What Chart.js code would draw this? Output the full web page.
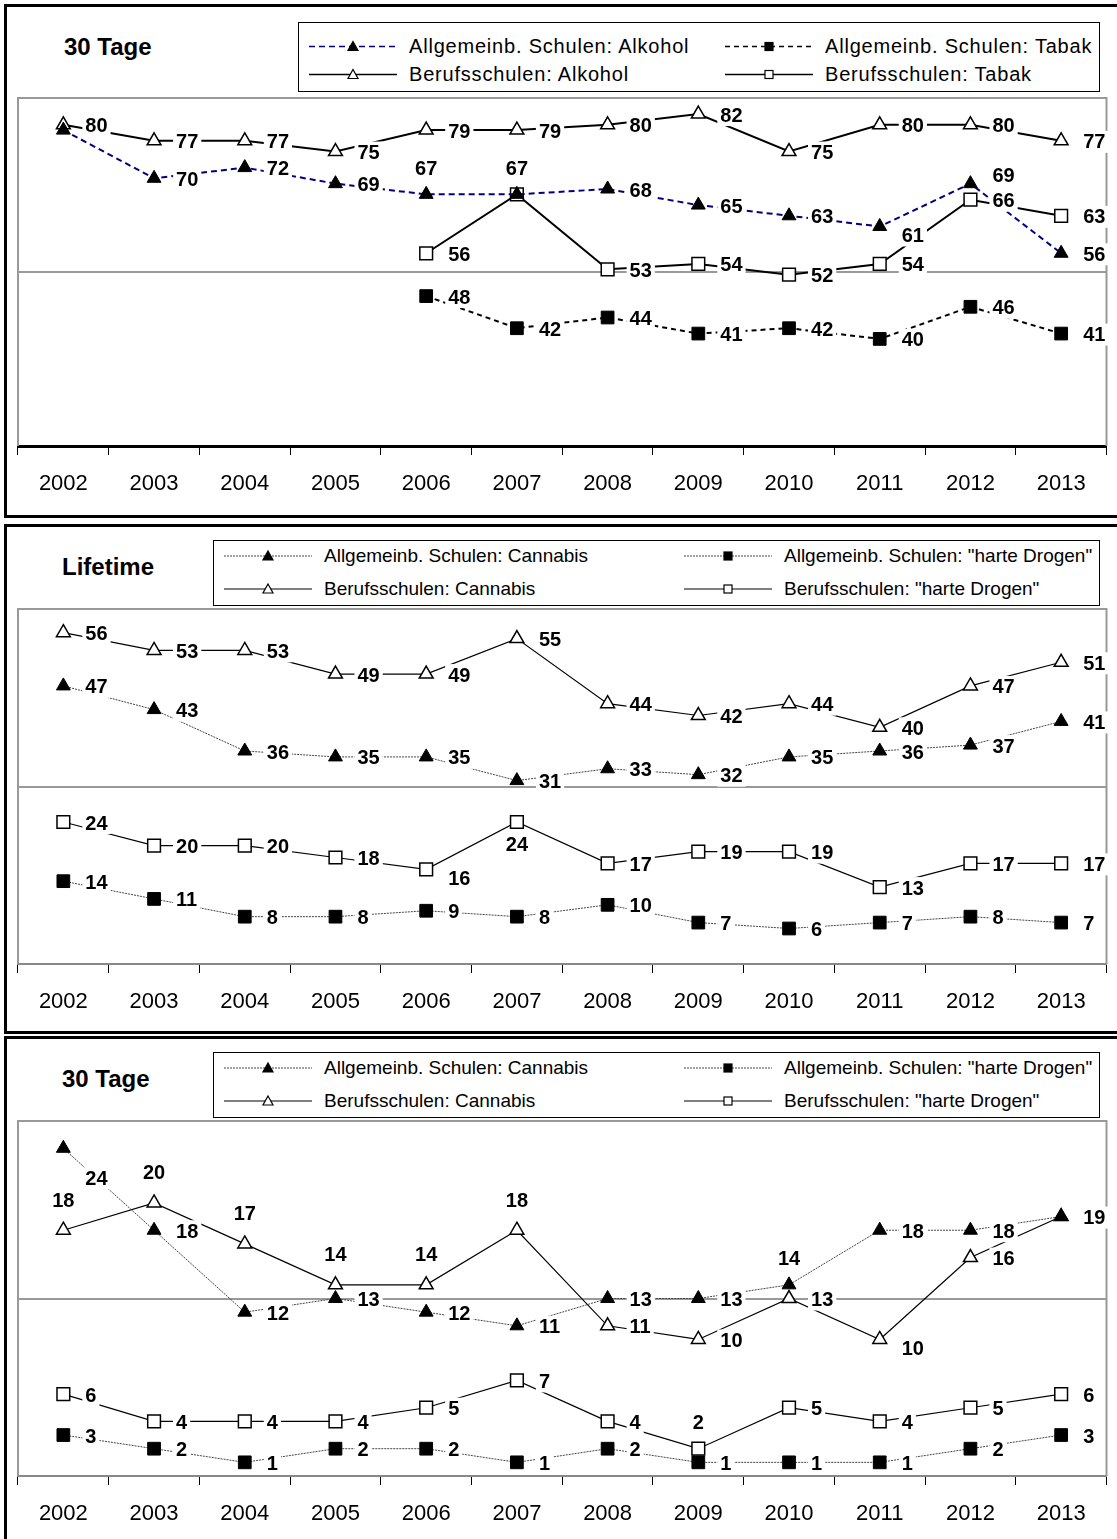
<!DOCTYPE html>
<html>
<head>
<meta charset="utf-8">
<script src="https://cdn.jsdelivr.net/npm/chart.js@4.4.1/dist/chart.umd.min.js"></script>
<style>
  html, body { margin: 0; padding: 0; background: #fff; overflow: hidden; width: 1117px; height: 1539px; }
  body { position: relative; font-family: "Liberation Sans", Arial, sans-serif; color: #000; }
  .panel { position: absolute; left: 4px; width: 1130px; border: 3px solid #000; box-sizing: border-box; }
  .title { position: absolute; font-weight: bold; font-size: 24px; line-height: 1; transform: translateY(-50%); white-space: nowrap; }
  .legend { position: absolute; border: 1.5px solid #000; box-sizing: border-box; background: #fff; }
  .litem { position: absolute; display: flex; align-items: center; white-space: nowrap; transform: translateY(-50%); }
  .litem svg { display: block; margin-right: 12px; }
  canvas { position: absolute; left: 0; }
</style>
</head>
<body>
<div id="root"></div>
<script>
// ---- categories ----
const years = ['2002', '2003', '2004', '2005', '2006', '2007', '2008', '2009', '2010', '2011', '2012', '2013'];

// ---- 30-Tage: Alkohol / Tabak ----
const alkAllg  = [79, 70, 72, 69, 67, 67, 68, 65, 63, 61, 69, 56];
const tabAllg  = [null, null, null, null, 48, 42, 44, 41, 42, 40, 46, 41];
const alkBeruf = [80, 77, 77, 75, 79, 79, 80, 82, 75, 80, 80, 77];
const tabBeruf = [null, null, null, null, 56, 67, 53, 54, 52, 54, 66, 63];

// ---- Lifetime: Cannabis / "harte Drogen" ----
const lifeCanAllg   = [47, 43, 36, 35, 35, 31, 33, 32, 35, 36, 37, 41];
const lifeHartAllg  = [14, 11, 8, 8, 9, 8, 10, 7, 6, 7, 8, 7];
const lifeCanBeruf  = [56, 53, 53, 49, 49, 55, 44, 42, 44, 40, 47, 51];
const lifeHartBeruf = [24, 20, 20, 18, 16, 24, 17, 19, 19, 13, 17, 17];

// ---- 30-Tage: Cannabis / "harte Drogen" ----
const monCanAllg   = [24, 18, 12, 13, 12, 11, 13, 13, 14, 18, 18, 19];
const monHartAllg  = [3, 2, 1, 2, 2, 1, 2, 1, 1, 1, 2, 3];
const monCanBeruf  = [18, 20, 17, 14, 14, 18, 11, 10, 13, 10, 16, 19];
const monHartBeruf = [6, 4, 4, 4, 5, 7, 4, 2, 5, 4, 5, 6];

// ---- legend texts ----
const legendAlkTab = ['Allgemeinb. Schulen: Alkohol', 'Allgemeinb. Schulen: Tabak', 'Berufsschulen: Alkohol', 'Berufsschulen: Tabak'];
const legendDrogen = ['Allgemeinb. Schulen: Cannabis', 'Allgemeinb. Schulen: "harte Drogen"', 'Berufsschulen: Cannabis', 'Berufsschulen: "harte Drogen"'];

// where each value label sits relative to its marker: r = right, a = above, ra/rb = right, raised/lowered, b = below, n = none
const labelPos = {
  alkAllg:  ['n', 'r', 'r', 'r', 'a', 'a', 'r', 'r', 'r', 'rb', 'ra', 'r'],
  tabBeruf: ['n', 'n', 'n', 'n', 'r', 'n', 'r', 'r', 'r', 'r', 'r', 'r'],
  lifeHartBeruf: ['r', 'r', 'r', 'r', 'rb', 'b', 'r', 'r', 'r', 'r', 'r', 'r'],
  monCanAllg:  ['rb2', 'r', 'r', 'r', 'r', 'r', 'r', 'r', 'a', 'r', 'r', 'r'],
  monCanBeruf: ['a2', 'a2', 'a2', 'a2', 'a2', 'a2', 'r', 'r', 'r', 'rb', 'r', 'n'],
  monHartBeruf: ['r', 'r', 'r', 'r', 'r', 'r', 'r', 'a', 'r', 'r', 'r', 'r']
};

// ---- series styles ----
const mk = {
  triFill: { pointStyle: 'triangle', pointRadius: 8, pointBackgroundColor: '#000', pointBorderColor: '#000', pointBorderWidth: 1 },
  triOpen: { pointStyle: 'triangle', pointRadius: 8, pointBackgroundColor: '#fff', pointBorderColor: '#000', pointBorderWidth: 1.5 },
  sqFill:  { pointStyle: 'rect', pointRadius: 9, pointBackgroundColor: '#000', pointBorderColor: '#000', pointBorderWidth: 1 },
  sqOpen:  { pointStyle: 'rect', pointRadius: 9, pointBackgroundColor: '#fff', pointBorderColor: '#000', pointBorderWidth: 1.5 }
};
const ln = {
  navyDash: { borderColor: '#000080', borderWidth: 2, borderDash: [6, 4] },
  blackDash: { borderColor: '#000', borderWidth: 2, borderDash: [5, 4] },
  solid2: { borderColor: '#000', borderWidth: 2, borderDash: [] },
  dotted: { borderColor: '#444', borderWidth: 1, borderDash: [2, 1] },
  solid1: { borderColor: '#000', borderWidth: 1.2, borderDash: [] }
};

// ---- panel layout ----
const panels = [
  {
    boxTop: 4, boxH: 514, canvasTop: 0, canvasH: 520,
    title: '30 Tage', titleX: 64, titleY: 47,
    legend: { x: 298, y: 22, w: 802, h: 70, col: [10, 426], rows: [23, 51], lineW: 88, font: 20, spacing: 0.8 },
    legendTexts: legendAlkTab,
    area: { left: 18, right: 1115, top: 98, bottom: 446 },
    yMin: 20, yMax: 85, yMid: 52.5,
    axisColor: '#000', axisWidth: 3,
    series: [
      { data: alkAllg,  line: ln.navyDash,  mark: mk.triFill, pos: labelPos.alkAllg },
      { data: tabAllg,  line: ln.blackDash, mark: mk.sqFill },
      { data: alkBeruf, line: ln.solid2,    mark: mk.triOpen },
      { data: tabBeruf, line: ln.solid2,    mark: mk.sqOpen, pos: labelPos.tabBeruf }
    ]
  },
  {
    boxTop: 524, boxH: 510, canvasTop: 520, canvasH: 514,
    title: 'Lifetime', titleX: 62, titleY: 567,
    legend: { x: 213, y: 540, w: 887, h: 66, col: [10, 470], rows: [15, 48], lineW: 88, font: 19, spacing: 0 },
    legendTexts: legendDrogen,
    area: { left: 18, right: 1115, top: 609, bottom: 964 },
    yMin: 0, yMax: 60, yMid: 30,
    axisColor: '#888', axisWidth: 2,
    series: [
      { data: lifeCanAllg,   line: ln.dotted, mark: mk.triFill },
      { data: lifeHartAllg,  line: ln.dotted, mark: mk.sqFill },
      { data: lifeCanBeruf,  line: ln.solid1, mark: mk.triOpen },
      { data: lifeHartBeruf, line: ln.solid1, mark: mk.sqOpen, pos: labelPos.lifeHartBeruf }
    ]
  },
  {
    boxTop: 1036, boxH: 520, canvasTop: 1034, canvasH: 505,
    title: '30 Tage', titleX: 62, titleY: 1079,
    legend: { x: 213, y: 1052, w: 887, h: 66, col: [10, 470], rows: [15, 48], lineW: 88, font: 19, spacing: 0 },
    legendTexts: legendDrogen,
    area: { left: 18, right: 1115, top: 1121, bottom: 1476 },
    yMin: 0, yMax: 26, yMid: 13,
    axisColor: '#888', axisWidth: 2,
    series: [
      { data: monCanAllg,   line: ln.dotted, mark: mk.triFill, pos: labelPos.monCanAllg },
      { data: monHartAllg,  line: ln.dotted, mark: mk.sqFill },
      { data: monCanBeruf,  line: ln.solid1, mark: mk.triOpen, pos: labelPos.monCanBeruf },
      { data: monHartBeruf, line: ln.solid1, mark: mk.sqOpen, pos: labelPos.monHartBeruf }
    ]
  }
];

// legend order: row 1 = Allgemeinb. (col 1 / col 2), row 2 = Berufsschulen
const legendSlots = [[0, 0], [1, 0], [0, 1], [1, 1]];

function legendSymbol(s, w) {
  const h = 16, cy = 8;
  const dash = s.line.borderDash && s.line.borderDash.length ? ` stroke-dasharray="${s.line.borderDash.join(' ')}"` : '';
  const lw = Math.max(1, s.line.borderWidth * 0.8);
  let marker;
  const cx = w / 2;
  const fill = s.mark.pointBackgroundColor;
  if (s.mark.pointStyle === 'triangle') {
    marker = `<polygon points="${cx},${cy - 5} ${cx + 5},${cy + 4} ${cx - 5},${cy + 4}" fill="${fill}" stroke="#000" stroke-width="1.2"/>`;
  } else {
    marker = `<rect x="${cx - 4}" y="${cy - 4}" width="8" height="8" fill="${fill}" stroke="#000" stroke-width="1.2"/>`;
  }
  return `<svg width="${w}" height="${h}"><line x1="0" y1="${cy}" x2="${w}" y2="${cy}" stroke="${s.line.borderColor}" stroke-width="${lw}"${dash}/>${marker}</svg>`;
}

// gray frame around the plot area (top, left, right)
const plotFrame = {
  id: 'plotFrame',
  beforeDatasetsDraw(chart) {
    const { ctx, chartArea: a } = chart;
    ctx.save();
    ctx.strokeStyle = '#999';
    ctx.lineWidth = 2;
    ctx.beginPath();
    ctx.moveTo(a.left, a.bottom);
    ctx.lineTo(a.left, a.top);
    ctx.lineTo(a.right, a.top);
    ctx.lineTo(a.right, a.bottom);
    ctx.stroke();
    ctx.restore();
  }
};

// value labels with white boxes, drawn on top of lines and axes
const labelOffsets = {
  r:   [22, 1, 'left'],
  ra:  [22, -8, 'left'],
  rb:  [22, 9, 'left'],
  rb2: [22, 30, 'left'],
  a:   [0, -26, 'center'],
  a2:  [0, -30, 'center'],
  b:   [0, 22, 'center']
};
const valueLabels = {
  id: 'valueLabels',
  afterDatasetsDraw(chart) {
    const ctx = chart.ctx;
    ctx.save();
    ctx.font = 'bold 20px "Liberation Sans", Arial, sans-serif';
    ctx.textBaseline = 'middle';
    chart.data.datasets.forEach((ds, di) => {
      const meta = chart.getDatasetMeta(di);
      meta.data.forEach((pt, i) => {
        const v = ds.data[i];
        if (v === null || v === undefined) return;
        const p = ds.labelPos ? ds.labelPos[i] : 'r';
        if (p === 'n') return;
        const off = labelOffsets[p];
        const txt = String(v);
        const w = ctx.measureText(txt).width;
        const x = pt.x + off[0];
        const y = pt.y + off[1];
        const lx = off[2] === 'center' ? x - w / 2 : x;
        ctx.fillStyle = '#fff';
        ctx.fillRect(lx - 3, y - 11, w + 6, 22);
        ctx.fillStyle = '#000';
        ctx.fillText(txt, lx, y + 1);
      });
    });
    ctx.restore();
  }
};

const root = document.getElementById('root');

panels.forEach((P) => {
  const box = document.createElement('div');
  box.className = 'panel';
  box.style.top = P.boxTop + 'px';
  box.style.height = P.boxH + 'px';
  root.appendChild(box);

  const t = document.createElement('div');
  t.className = 'title';
  t.textContent = P.title;
  t.style.left = P.titleX + 'px';
  t.style.top = P.titleY + 'px';
  root.appendChild(t);

  const L = document.createElement('div');
  L.className = 'legend';
  L.style.left = P.legend.x + 'px';
  L.style.top = P.legend.y + 'px';
  L.style.width = P.legend.w + 'px';
  L.style.height = P.legend.h + 'px';
  P.series.forEach((s, k) => {
    const [c, r] = legendSlots[k];
    const it = document.createElement('div');
    it.className = 'litem';
    it.style.left = P.legend.col[c] + 'px';
    it.style.top = P.legend.rows[r] + 'px';
    it.style.fontSize = P.legend.font + 'px';
    it.style.letterSpacing = P.legend.spacing + 'px';
    it.innerHTML = legendSymbol(s, P.legend.lineW) + '<span></span>';
    it.querySelector('span').textContent = P.legendTexts[k];
    L.appendChild(it);
  });
  root.appendChild(L);

  const cv = document.createElement('canvas');
  cv.width = 1117;
  cv.height = P.canvasH;
  cv.style.top = P.canvasTop + 'px';
  root.appendChild(cv);

  const axisH = 60;
  const a = P.area;
  new Chart(cv, {
    type: 'line',
    data: {
      labels: years,
      datasets: P.series.map((s) => Object.assign({
        data: s.data,
        labelPos: s.pos,
        fill: false,
        tension: 0,
        spanGaps: false,
        clip: false
      }, s.line, s.mark))
    },
    options: {
      responsive: false,
      animation: false,
      devicePixelRatio: 1,
      events: [],
      layout: {
        padding: {
          top: a.top - P.canvasTop,
          left: a.left,
          right: 1117 - a.right,
          bottom: (P.canvasTop + P.canvasH) - a.bottom - axisH
        }
      },
      plugins: { legend: { display: false }, tooltip: { enabled: false } },
      scales: {
        x: {
          offset: true,
          afterFit: (s) => { s.height = axisH; },
          grid: { offset: true, drawOnChartArea: false, drawTicks: true, tickLength: 9, color: '#000', lineWidth: 1 },
          border: { display: true, color: P.axisColor, width: P.axisWidth },
          ticks: { color: '#000', padding: 16, maxRotation: 0, autoSkip: false, font: { family: '"Liberation Sans", Arial, sans-serif', size: 22 } }
        },
        y: {
          min: P.yMin,
          max: P.yMax,
          afterFit: (s) => { s.width = 0; },
          afterBuildTicks: (s) => { s.ticks = [{ value: P.yMid }]; },
          ticks: { display: false },
          grid: { drawTicks: false, color: '#999', lineWidth: 2 },
          border: { display: false }
        }
      }
    },
    plugins: [plotFrame, valueLabels]
  });
});
</script>
</body>
</html>
